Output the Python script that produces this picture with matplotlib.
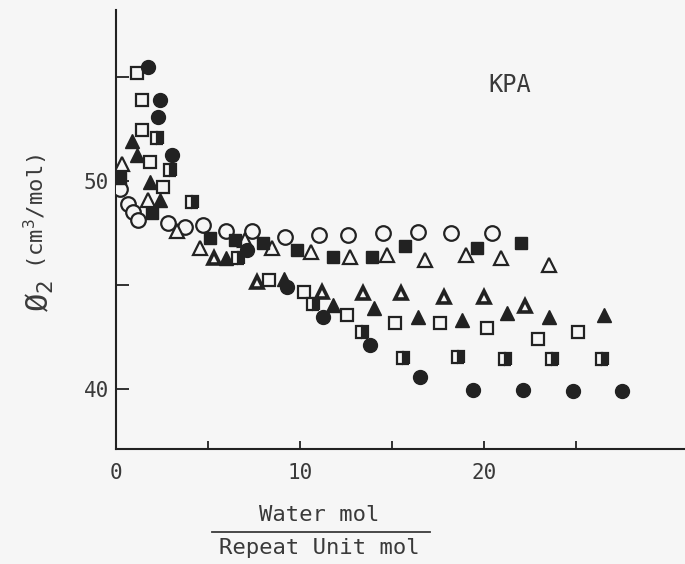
import matplotlib
matplotlib.use("Agg")
import matplotlib.pyplot as plt
from matplotlib.lines import Line2D

# data (x = water mol / repeat unit mol, y = phi_2 in cm3/mol)
open_circle_x = [0.2, 0.65, 0.9, 1.2, 2.8, 3.75, 4.7, 6.0, 7.4, 9.2, 11.0, 12.6, 14.5, 16.4, 18.2, 20.4]
open_circle_y = [49.6, 48.9, 48.5, 48.1, 48.0, 47.8, 47.9, 47.6, 47.6, 47.3, 47.4, 47.4, 47.5, 47.55, 47.5, 47.5]

filled_circle_x = [1.75, 2.4, 2.3, 3.05, 7.1, 9.3, 11.25, 13.8, 16.5, 19.4, 22.1, 24.8, 27.5]
filled_circle_y = [55.45, 53.9, 53.05, 51.25, 46.7, 44.9, 43.45, 42.1, 40.6, 39.95, 39.95, 39.9, 39.9]

open_square_x = [1.15, 1.4, 1.4, 1.85, 2.55, 8.3, 10.2, 12.55, 15.15, 17.6, 20.15, 22.9, 25.1]
open_square_y = [55.2, 53.9, 52.45, 50.9, 49.7, 45.25, 44.65, 43.55, 43.15, 43.15, 42.95, 42.4, 42.75]

half_square_x = [2.25, 2.95, 4.15, 6.65, 10.7, 13.35, 15.6, 18.6, 21.1, 23.7, 26.4]
half_square_y = [52.05, 50.5, 49.0, 46.3, 44.1, 42.75, 41.5, 41.55, 41.45, 41.45, 41.45]

filled_square_x = [0.2, 1.95, 5.1, 6.45, 8.0, 9.85, 11.8, 13.9, 15.7, 19.6, 22.0]
filled_square_y = [50.15, 48.45, 47.25, 47.15, 47.0, 46.7, 46.35, 46.35, 46.85, 46.8, 47.0]

open_tri_x = [0.35, 1.75, 3.3, 4.55, 7.0, 8.5, 10.6, 12.7, 14.7, 16.8, 19.0, 20.9, 23.5]
open_tri_y = [50.8, 49.1, 47.6, 46.8, 47.15, 46.8, 46.6, 46.35, 46.45, 46.2, 46.45, 46.3, 45.95]

bold_tri_x = [5.3, 7.65, 11.2, 13.4, 15.5, 17.8, 20.0, 22.2]
bold_tri_y = [46.3, 45.15, 44.65, 44.6, 44.6, 44.4, 44.4, 44.0]

filled_tri_x = [0.85, 1.15, 1.85, 2.4, 5.95, 9.1, 11.8, 14.0, 16.4, 18.8, 21.25, 23.5, 26.5]
filled_tri_y = [51.9, 51.25, 49.95, 49.1, 46.3, 45.3, 44.05, 43.9, 43.45, 43.3, 43.65, 43.45, 43.55]

x_ticks = [0, 5, 10, 15, 20, 25]
x_ticklabels = ["0", "", "10", "", "20", ""]
y_ticks = [40, 45, 50, 55]
y_ticklabels = ["40", "", "50", ""]

bg = "#f6f6f6"
ink = "#222222"
txt = "#3a3a3a"
mono = "DejaVu Sans Mono"

fig = plt.figure(figsize=(6.85, 5.64), dpi=100, facecolor=bg)
ax = fig.add_axes([0.1693, 0.2039, 0.8307, 0.778], facecolor=bg)

ms = 10
ax.plot(open_circle_x, open_circle_y, "o", ms=ms + 0.5, mfc=bg, mec=ink, mew=1.6, zorder=3)
ax.plot(filled_circle_x, filled_circle_y, "o", ms=ms, mfc=ink, mec=ink, zorder=4)
ax.plot(open_square_x, open_square_y, "s", ms=ms - 1, mfc=bg, mec=ink, mew=1.6, zorder=3)
ax.plot(half_square_x, half_square_y, "s", ms=ms - 1, fillstyle="right", mfc=ink,
        mfcalt=bg, mec=ink, mew=1.6, zorder=4)
ax.plot(filled_square_x, filled_square_y, "s", ms=ms - 1, mfc=ink, mec=ink, zorder=4)
ax.plot(open_tri_x, open_tri_y, "^", ms=ms, mfc=bg, mec=ink, mew=1.6, zorder=3)
ax.plot(bold_tri_x, bold_tri_y, "^", ms=ms - 1, mfc=bg, mec=ink, mew=2.6, zorder=3)
ax.plot(filled_tri_x, filled_tri_y, "^", ms=ms, mfc=ink, mec=ink, zorder=4)

ax.set_xlim(0, 30.9)
ax.set_ylim(37.12, 58.2)

for s in ["top", "right"]:
    ax.spines[s].set_visible(False)
for s in ["left", "bottom"]:
    ax.spines[s].set_linewidth(1.5)
    ax.spines[s].set_color(ink)

ax.set_xticks(x_ticks)
ax.set_xticklabels(x_ticklabels, family=mono, fontsize=15, color=txt)
ax.set_yticks(y_ticks)
ax.set_yticklabels(y_ticklabels, family=mono, fontsize=15, color=txt)
ax.tick_params(axis="x", direction="in", length=6, width=1.3, pad=10, colors=ink, labelcolor=txt)
ax.tick_params(axis="y", direction="in", length=9, width=1.3, pad=5, colors=ink, labelcolor=txt)

ax.text(21.4, 54.6, "KPA", family=mono, fontsize=17, color=txt, ha="center", va="center")

# y label: big slashed phi, then units
fig.text(0.058, 0.475, "Ø$_2$", family=mono, fontsize=22, color=txt,
         rotation=90, ha="center", va="center")
fig.text(0.052, 0.625, "(cm$^3$/mol)", family=mono, fontsize=16, color=txt,
         rotation=90, ha="center", va="center")

# x label as a fraction
fig.text(0.466, 0.087, "Water mol", family=mono, fontsize=16, color=txt, ha="center", va="center")
fig.add_artist(Line2D([0.31, 0.628], [0.057, 0.057], transform=fig.transFigure,
                      color=txt, lw=1.3))
fig.text(0.466, 0.028, "Repeat Unit mol", family=mono, fontsize=16, color=txt, ha="center", va="center")

fig.savefig("out.png", dpi=100, facecolor=bg)
